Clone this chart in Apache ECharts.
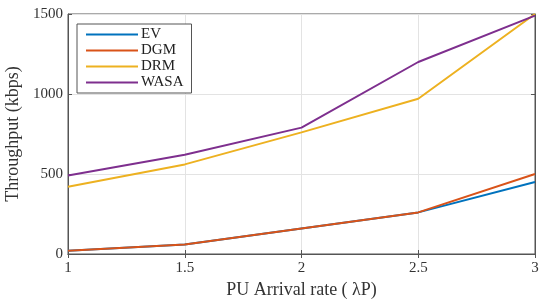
<!DOCTYPE html>
<html>
<head>
<meta charset="utf-8">
<title>Throughput</title>
<script src="https://cdn.jsdelivr.net/npm/echarts@6/dist/echarts.min.js"></script>
<style>body{margin:0;background:#fff}</style>
</head>
<body>
<div id="main" style="width:540px;height:299px;"></div>
<script>
var rates = [1, 1.5, 2, 2.5, 3];
var ev   = [20, 60, 160, 260, 450];
var dgm  = [20, 60, 160, 260, 500];
var drm  = [420, 560, 760, 970, 1500];
var wasa = [490, 620, 790, 1200, 1490];
var names = ['EV', 'DGM', 'DRM', 'WASA'];
var colors = ['#0072BD', '#D95319', '#EDB120', '#7E2F8E'];

function pairs(v) {
    return rates.map(function (x, i) { return [x, v[i]]; });
}

var font = 'Liberation Serif';
var chart = echarts.init(document.getElementById('main'));
var axisLine = { lineStyle: { color: '#555', width: 1 } };
var axisTick = { inside: true, length: 4, lineStyle: { color: '#555' } };
chart.setOption({
    animation: false,
    textStyle: { fontFamily: font },
    grid: { left: 68, right: 5, top: 14, bottom: 45, show: true, borderColor: '#555', borderWidth: 1,
        outerBoundsMode: 'none', containLabel: false },
    legend: {
        data: names, orient: 'vertical', left: 77, top: 24,
        icon: 'rect', itemWidth: 52, itemHeight: 2, itemGap: 1,
        backgroundColor: '#fff', borderColor: '#555', borderWidth: 1,
        padding: [3, 8, 3, 9],
        textStyle: { fontFamily: font, fontSize: 15, lineHeight: 15, color: '#222', padding: [0, 0, 0, -2] }
    },
    xAxis: [{
        type: 'value', min: 1, max: 3, interval: 0.5,
        name: 'PU Arrival rate ( \u03bbP)', nameLocation: 'middle', nameGap: 23,
        nameTextStyle: { fontFamily: font, fontSize: 18, color: '#333' },
        axisLabel: { fontFamily: font, fontSize: 15, color: '#333', margin: 7 },
        splitLine: { lineStyle: { color: '#e3e3e3' } },
        axisLine: axisLine, axisTick: axisTick
    }, {
        type: 'value', min: 1, max: 3, interval: 0.5, position: 'top',
        axisLabel: { show: false }, splitLine: { show: false },
        axisLine: axisLine, axisTick: axisTick
    }],
    yAxis: [{
        type: 'value', min: 0, max: 1500, interval: 500,
        name: 'Throughput (kbps)', nameLocation: 'middle', nameGap: 45,
        nameTextStyle: { fontFamily: font, fontSize: 18, color: '#333' },
        axisLabel: { fontFamily: font, fontSize: 15, color: '#333', margin: 5,
            formatter: function (v) { return String(v); } },
        splitLine: { lineStyle: { color: '#e3e3e3' } },
        axisLine: axisLine, axisTick: axisTick
    }, {
        type: 'value', min: 0, max: 1500, interval: 500, position: 'right',
        axisLabel: { show: false }, splitLine: { show: false },
        axisLine: axisLine, axisTick: axisTick
    }],
    series: [ev, dgm, drm, wasa].map(function (v, i) {
        return {
            name: names[i], type: 'line', data: pairs(v),
            symbol: 'none', color: colors[i],
            lineStyle: { width: 2, color: colors[i] }
        };
    })
});
</script>
</body>
</html>
